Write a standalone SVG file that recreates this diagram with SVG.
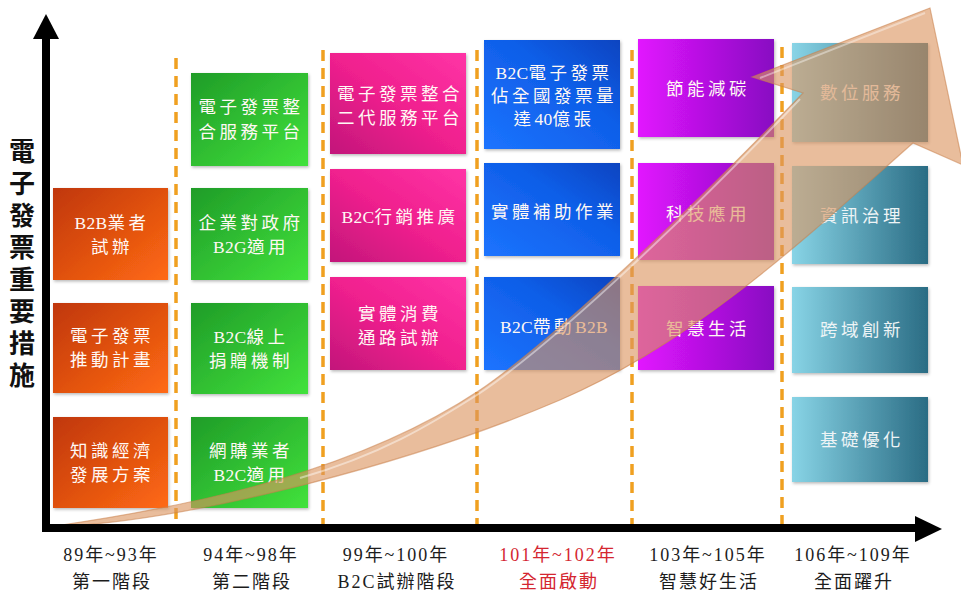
<svg xmlns="http://www.w3.org/2000/svg" width="961" height="597" viewBox="0 0 961 597">
<defs>
<style>
.bx{filter:url(#sh)}
.t{font-family:"Liberation Serif","Noto Sans CJK TC",serif;font-size:17.5px;letter-spacing:3.5px;fill:#fff8f4;text-anchor:middle;dominant-baseline:central}
.tt{fill:#eef4f6}
.l{letter-spacing:0.3px}
.lab{font-family:"Liberation Serif","Noto Sans CJK TC",serif;font-size:18px;letter-spacing:2px;fill:#1c1c1c;text-anchor:middle;dominant-baseline:central}
.red{fill:#d42630}
.vl{font-family:"Noto Sans CJK TC",sans-serif;font-size:26px;font-weight:700;fill:#111;writing-mode:vertical-rl;letter-spacing:6px}
.dash{stroke:#f0a020;stroke-width:3.5;stroke-dasharray:11 7;fill:none}
</style>
<filter id="sh" x="-10%" y="-10%" width="125%" height="125%"><feDropShadow dx="1" dy="1.5" stdDeviation="1.5" flood-color="#000" flood-opacity="0.28"/></filter>
<linearGradient id="gO" x1="0" y1="0" x2="1" y2="1"><stop offset="0" stop-color="#c0370a"/><stop offset="1" stop-color="#ff6a14"/></linearGradient>
<linearGradient id="gG" x1="0" y1="0" x2="1" y2="1"><stop offset="0" stop-color="#1f9c28"/><stop offset="1" stop-color="#42e23c"/></linearGradient>
<linearGradient id="gP" x1="0" y1="1" x2="1" y2="0"><stop offset="0" stop-color="#c2167a"/><stop offset="0.5" stop-color="#f0208e"/><stop offset="1" stop-color="#ff34a6"/></linearGradient>
<linearGradient id="gB" x1="0" y1="1" x2="1" y2="0"><stop offset="0" stop-color="#1c74ff"/><stop offset="0.6" stop-color="#0f5ee8"/><stop offset="1" stop-color="#0a44c0"/></linearGradient>
<linearGradient id="gV" x1="0" y1="0" x2="1" y2="0"><stop offset="0" stop-color="#e214ff"/><stop offset="1" stop-color="#880cc2"/></linearGradient>
<linearGradient id="gT" x1="0" y1="0" x2="1" y2="0"><stop offset="0" stop-color="#88d4e6"/><stop offset="1" stop-color="#2a6c84"/></linearGradient>
</defs>
<rect width="961" height="597" fill="#fff"/>

<g id="separators">
<line class="dash" x1="176" y1="58" x2="176" y2="527"/>
<line class="dash" x1="323" y1="50" x2="323" y2="527"/>
<line class="dash" x1="477" y1="50" x2="477" y2="527"/>
<line class="dash" x1="632" y1="50" x2="632" y2="527"/>
<line class="dash" x1="782" y1="47" x2="782" y2="527"/>
</g>

<g id="col1">
<g id="n-b2b"><rect class="bx" x="53" y="188" width="115" height="92" fill="url(#gO)"/><text class="t" x="112" y="223"><tspan class="l">B2B</tspan>業者</text><text class="t" x="112" y="247">試辦</text></g>
<g id="n-plan"><rect class="bx" x="53" y="303" width="115" height="90" fill="url(#gO)"/><text class="t" x="112" y="336">電子發票</text><text class="t" x="112" y="360">推動計畫</text></g>
<g id="n-know"><rect class="bx" x="53" y="417" width="115" height="91" fill="url(#gO)"/><text class="t" x="112" y="451">知識經濟</text><text class="t" x="112" y="475">發展方案</text></g>
</g>

<g id="col2">
<g id="n-platform"><rect class="bx" x="191" y="73" width="117" height="93" fill="url(#gG)"/><text class="t" x="251" y="107">電子發票整</text><text class="t" x="251" y="132">合服務平台</text></g>
<g id="n-b2g"><rect class="bx" x="191" y="188" width="117" height="92" fill="url(#gG)"/><text class="t" x="251" y="223">企業對政府</text><text class="t" x="251" y="247"><tspan class="l">B2G</tspan>適用</text></g>
<g id="n-donate"><rect class="bx" x="191" y="303" width="117" height="91" fill="url(#gG)"/><text class="t" x="251" y="337"><tspan class="l">B2C</tspan>線上</text><text class="t" x="251" y="361">捐贈機制</text></g>
<g id="n-online"><rect class="bx" x="191" y="417" width="117" height="91" fill="url(#gG)"/><text class="t" x="251" y="451">網購業者</text><text class="t" x="251" y="475"><tspan class="l">B2C</tspan>適用</text></g>
</g>

<g id="col3">
<g id="n-gen2"><rect class="bx" x="330" y="53" width="136" height="101" fill="url(#gP)"/><text class="t" x="400" y="94">電子發票整合</text><text class="t" x="400" y="118">二代服務平台</text></g>
<g id="n-market"><rect class="bx" x="330" y="169" width="136" height="93" fill="url(#gP)"/><text class="t" x="400" y="217"><tspan class="l">B2C</tspan>行銷推廣</text></g>
<g id="n-retail"><rect class="bx" x="330" y="277" width="136" height="93" fill="url(#gP)"/><text class="t" x="400" y="314">實體消費</text><text class="t" x="400" y="338">通路試辦</text></g>
</g>

<g id="col4">
<g id="n-share"><rect class="bx" x="484" y="40" width="136" height="109" fill="url(#gB)"/><text class="t" x="554" y="73"><tspan class="l">B2C</tspan>電子發票</text><text class="t" x="554" y="96">佔全國發票量</text><text class="t" x="554" y="119">達<tspan class="l">40</tspan>億張</text></g>
<g id="n-subsidy"><rect class="bx" x="484" y="163" width="136" height="93" fill="url(#gB)"/><text class="t" x="554" y="212">實體補助作業</text></g>
<g id="n-b2c2b"><rect class="bx" x="484" y="277" width="136" height="93" fill="url(#gB)"/><text class="t" x="554" y="327"><tspan class="l">B2C</tspan>帶動<tspan class="l">B2B</tspan></text></g>
</g>

<g id="col5">
<g id="n-energy"><rect class="bx" x="638" y="39" width="136" height="98" fill="url(#gV)"/><text class="t" x="708" y="89">節能減碳</text></g>
<g id="n-tech"><rect class="bx" x="638" y="163" width="136" height="97" fill="url(#gV)"/><text class="t" x="708" y="214">科技應用</text></g>
<g id="n-smart"><rect class="bx" x="638" y="286" width="136" height="84" fill="url(#gV)"/><text class="t" x="708" y="329">智慧生活</text></g>
</g>

<g id="col6">
<g id="n-digital"><rect class="bx" x="792" y="43" width="136" height="99" fill="url(#gT)"/><text class="t tt" x="862" y="93">數位服務</text></g>
<g id="n-gov"><rect class="bx" x="792" y="166" width="136" height="98" fill="url(#gT)"/><text class="t tt" x="862" y="216">資訊治理</text></g>
<g id="n-cross"><rect class="bx" x="792" y="287" width="136" height="86" fill="url(#gT)"/><text class="t tt" x="862" y="330">跨域創新</text></g>
<g id="n-base"><rect class="bx" x="792" y="397" width="136" height="85" fill="url(#gT)"/><text class="t tt" x="862" y="440">基礎優化</text></g>
</g>

<g id="growth-arrow">
<path d="M55,526 C200,505 360,470 480,390 C560,335 700,200 803,93 L752,77 L930,8 L963,165 L913,143 C820,225 700,340 560,400 C420,460 200,520 55,527 Z" fill="#dc955f" fill-opacity="0.62" stroke="#c8804a" stroke-opacity="0.55" stroke-width="1.2"/>
<path d="M300,478 C380,455 430,425 480,393 C560,339 700,204 800,99" fill="none" stroke="#fff" stroke-opacity="0.45" stroke-width="2"/>
<path d="M760,78 L925,13" fill="none" stroke="#fff" stroke-opacity="0.4" stroke-width="2"/>
</g>

<g id="axes">
<line x1="46" y1="36" x2="46" y2="532" stroke="#000" stroke-width="8"/>
<polygon points="46,14 33,39 59,39" fill="#000"/>
<line x1="42" y1="528" x2="917" y2="528" stroke="#000" stroke-width="8"/>
<polygon points="942,529 915,516 915,542" fill="#000"/>
</g>

<g id="y-label">
<text class="vl" x="22" y="138">電子發票重要措施</text>
</g>

<g id="x-labels">
<text class="lab" x="111" y="555">89年~93年</text><text class="lab" x="112" y="582">第一階段</text>
<text class="lab" x="251" y="555">94年~98年</text><text class="lab" x="252" y="582">第二階段</text>
<text class="lab" x="396" y="555">99年~100年</text><text class="lab" x="397" y="582">B2C試辦階段</text>
<text class="lab red" x="558" y="555">101年~102年</text><text class="lab red" x="559" y="582">全面啟動</text>
<text class="lab" x="708" y="555">103年~105年</text><text class="lab" x="709" y="582">智慧好生活</text>
<text class="lab" x="853" y="555">106年~109年</text><text class="lab" x="854" y="582">全面躍升</text>
</g>
</svg>
